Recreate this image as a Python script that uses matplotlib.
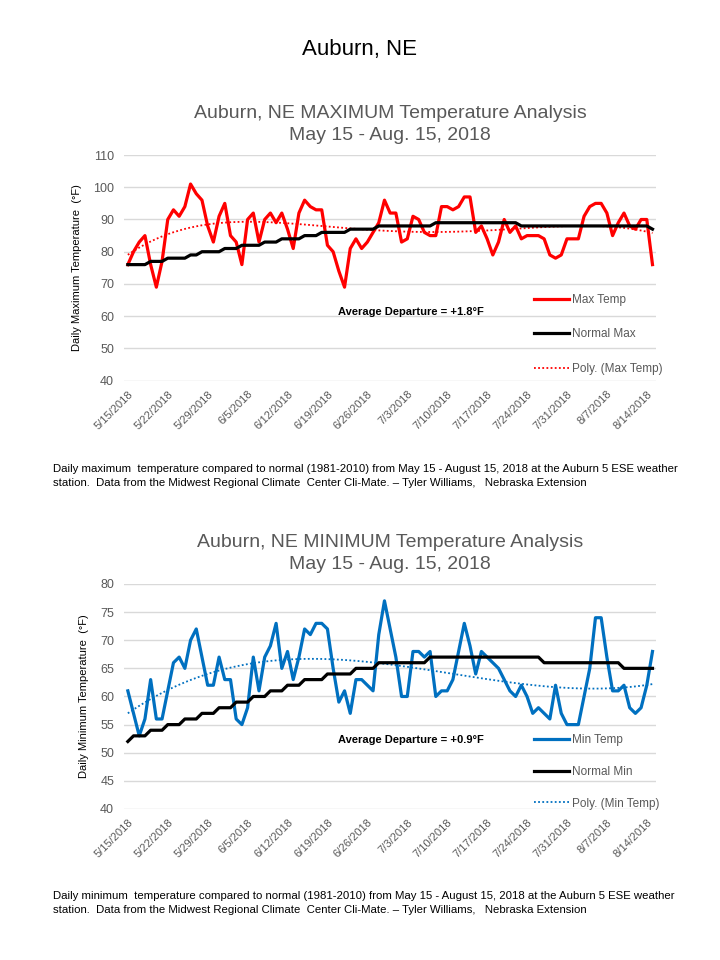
import numpy as np
import pandas as pd
import matplotlib
matplotlib.use("Agg")
import matplotlib.pyplot as plt

plt.rcParams['font.family'] = ['Liberation Sans', 'DejaVu Sans']

# daily values 5/15/2018 - 8/15/2018
dates = pd.date_range('2018-05-15', '2018-08-15', freq='D')

max_temp = [76, 80, 83, 85, 76, 69, 77, 90, 93, 91,
            94, 101, 98, 96, 88, 83, 91, 95, 85, 83,
            76, 90, 92, 83, 90, 92, 89, 92, 87, 81,
            92, 96, 94, 93, 93, 82, 80, 74, 69, 81,
            84, 81, 83, 86, 89, 96, 92, 92, 83, 84,
            91, 90, 86, 85, 85, 94, 94, 93, 94, 97,
            97, 86, 88, 84, 79, 83, 90, 86, 88, 84,
            85, 85, 85, 84, 79, 78, 79, 84, 84, 84,
            91, 94, 95, 95, 92, 85, 89, 92, 88, 87,
            90, 90, 76]

normal_max = [76] * 4 + [77] * 3 + [78] * 4 + [79] * 2 + [80] * 4 + [81] * 3 + \
             [82] * 4 + [83] * 3 + [84] * 4 + [85] * 3 + [86] * 5 + [87] * 5 + \
             [88] * 10 + [89] * 15 + [88] * 23 + [87] * 1

min_temp = [61, 57, 53, 56, 63, 56, 56, 61, 66, 67,
            65, 70, 72, 67, 62, 62, 67, 63, 63, 56,
            55, 58, 67, 61, 67, 69, 73, 65, 68, 63,
            67, 72, 71, 73, 73, 72, 65, 59, 61, 57,
            63, 63, 62, 61, 71, 77, 72, 67, 60, 60,
            68, 68, 67, 68, 60, 61, 61, 63, 68, 73,
            69, 64, 68, 67, 66, 65, 63, 61, 60, 62,
            60, 57, 58, 57, 56, 62, 57, 55, 55, 55,
            60, 65, 74, 74, 67, 61, 61, 62, 58, 57,
            58, 62, 68]

normal_min = [52] * 1 + [53] * 3 + [54] * 3 + [55] * 3 + [56] * 3 + [57] * 3 + \
             [58] * 3 + [59] * 3 + [60] * 3 + [61] * 3 + [62] * 3 + [63] * 4 + \
             [64] * 5 + [65] * 4 + [66] * 9 + [67] * 20 + [66] * 14 + [65] * 6

tick_labels = ['5/15/2018', '5/22/2018', '5/29/2018', '6/5/2018', '6/12/2018',
               '6/19/2018', '6/26/2018', '7/3/2018', '7/10/2018', '7/17/2018',
               '7/24/2018', '7/31/2018', '8/7/2018', '8/14/2018']

GRAY = '#595959'

fig = plt.figure(figsize=(7.2, 9.6), dpi=100)
fig.text(0.5, 1 - 49 / 960, 'Auburn, NE', ha='center', va='center', fontsize=16)


def panel(rect, temp, normal, color, lims, step, title, ylabel, labels, depart,
          deg, leg_y, leg_sp):
    ax = fig.add_axes(rect)
    day = np.arange(len(dates))
    coef = np.polyfit(day, temp, deg)
    trend = np.polyval(coef, day)
    l1, = ax.plot(dates, temp, color=color, lw=2.3, label=labels[0], zorder=3)
    l2, = ax.plot(dates, normal, color='black', lw=2.3, label=labels[1], zorder=4)
    l3, = ax.plot(dates, trend, color=color, lw=1.3, ls=(0, (1.0, 1.3)),
                  label=labels[2], zorder=2)
    ax.set_ylim(*lims)
    ax.set_yticks(np.arange(lims[0], lims[1] + 1, step))
    ax.set_xlim(dates[0] - pd.Timedelta(days=0.7), dates[-1] + pd.Timedelta(days=0.6))
    ax.set_xticks(dates[::7])
    ax.set_xticklabels(tick_labels, rotation=45, ha='right', rotation_mode='anchor',
                       fontsize=8, color=GRAY)
    for t in ax.get_yticklabels():
        t.set_fontsize(9)
        t.set_color(GRAY)
    ax.tick_params(length=0, axis='y', pad=7)
    ax.tick_params(length=0, axis='x', pad=6)
    ax.grid(axis='y', color='#d9d9d9', lw=1)
    ax.set_axisbelow(True)
    for s in ax.spines.values():
        s.set_visible(False)
    ax.set_title(title, fontsize=14, color=GRAY, pad=11, linespacing=1.35)
    ax.set_ylabel(ylabel, fontsize=8, color='black', labelpad=8)
    ax.text(0.54, 0.306, 'Average Departure = ' + depart, transform=ax.transAxes,
            ha='center', va='center', fontsize=8, fontweight='bold')
    ax.legend(handles=[l1, l2, l3], loc='upper left', bbox_to_anchor=(0.75, leg_y),
              frameon=False, fontsize=8.5, labelspacing=leg_sp, handlelength=3.0,
              handletextpad=0.3, labelcolor=GRAY)
    return ax


panel([0.172, 0.6035, 0.739, 0.235], max_temp, normal_max, '#ff0000', (40, 110), 10,
      'Auburn, NE MAXIMUM Temperature Analysis\nMay 15 - Aug. 15, 2018',
      'Daily Maximum Temperature  (°F)',
      ['Max Temp', 'Normal Max', 'Poly. (Max Temp)'], '+1.8°F', 4, 0.43, 1.88)

panel([0.172, 0.1573, 0.739, 0.2344], min_temp, normal_min, '#0070c0', (40, 80), 5,
      'Auburn, NE MINIMUM Temperature Analysis\nMay 15 - Aug. 15, 2018',
      'Daily Minimum Temperature  (°F)',
      ['Min Temp', 'Normal Min', 'Poly. (Min Temp)'], '+0.9°F', 3, 0.38, 1.67)

cap1 = ('Daily maximum  temperature compared to normal (1981-2010) from May 15 - August 15, '
        '2018 at the Auburn 5 ESE weather\nstation.  Data from the Midwest Regional Climate  '
        'Center Cli-Mate. \u2013 Tyler Williams,   Nebraska Extension')
cap2 = cap1.replace('Daily maximum', 'Daily minimum')
fig.text(53 / 720, 1 - 464 / 960, cap1, ha='left', va='top', fontsize=8.2,
         linespacing=1.45)
fig.text(53 / 720, 1 - 891 / 960, cap2, ha='left', va='top', fontsize=8.2,
         linespacing=1.45)

fig.savefig('out.png', dpi=100)
